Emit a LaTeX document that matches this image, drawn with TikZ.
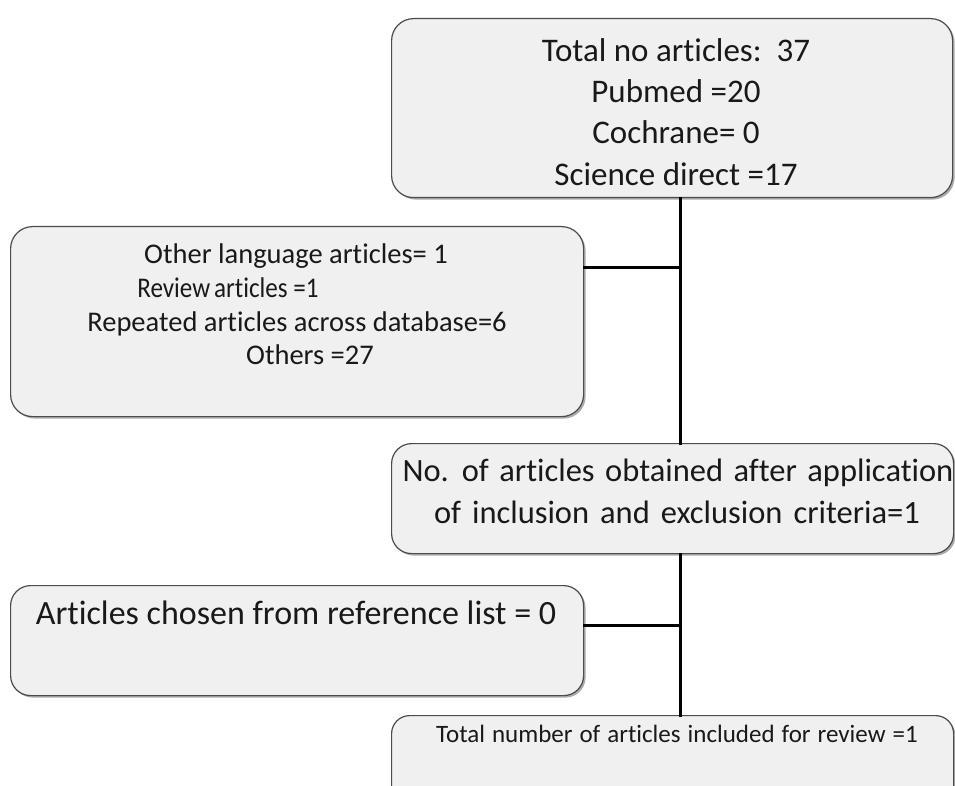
\documentclass[tikz,border=0pt]{standalone}
\usepackage{fontspec}
\setmainfont{Carlito}[Ligatures={NoCommon}]
\usetikzlibrary{shadows}
\begin{document}
\begin{tikzpicture}[x=1pt,y=-1pt,
  box/.style={draw=black!70, line width=1.2pt, fill=black!6, rounded corners=22pt,
    minimum width=0pt, minimum height=0pt, inner sep=0pt, anchor=north west,
    drop shadow={shadow xshift=2pt, shadow yshift=-2pt, fill=black!55, opacity=0.6}},
  conn/.style={line width=3pt, line cap=rect},
  txt/.style={inner sep=0pt, anchor=base, text=black!90}]
\useasboundingbox (0,0) rectangle (955,786);
\clip (0,0) rectangle (955,786);
% boxes
\node[box, minimum width=561pt, minimum height=179pt] (b1) at (391,18) {};
\node[box, minimum width=573pt, minimum height=190pt] (b2) at (10,226) {};
\node[box, minimum width=562pt, minimum height=110pt, rounded corners=20pt] (b3) at (391,443) {};
\node[box, minimum width=573pt, minimum height=110pt, rounded corners=20pt] (b4) at (10,585) {};
\node[box, minimum width=562pt, minimum height=110pt, rounded corners=18pt] (b5) at (391,715) {};
% junctions
\coordinate (j1) at (680,267);
\coordinate (j2) at (680,625);
% connectors
\draw[conn] (b1.south -| j1) -- (b3.north -| j1);
\draw[conn] (b3.south -| j2) -- (b5.north -| j2);
\draw[conn] (b2.east |- j1) -- (j1);
\draw[conn] (b4.east |- j2) -- (j2);
% texts box 1
\begin{scope}[font=\fontsize{33}{40}\selectfont]
\node[txt] (t11) at (676,62) {Total no articles:~~37};
\node[txt] (t12) at (676,103) {Pubmed =20};
\node[txt] (t13) at (676,144) {Cochrane= 0};
\node[txt] (t14) at (676,186) {Science direct =17};
\end{scope}
% texts box 2
\begin{scope}[font=\fontsize{28.5}{34}\selectfont]
\node[txt] (t21) at (296,263) {Other language articles= 1};
\node[txt] (t22) at (228,297) {\scalebox{0.88}[1]{Review\kern4.5pt{}articles =1}};
\node[txt] (t23) at (297,331) {Repeated articles across database=6};
\node[txt] (t24) at (310,364) {Others =27};
\end{scope}
% texts box 3
\begin{scope}[font=\fontsize{32.5}{40}\selectfont]
\node[txt] (t31) at (678,481) {\spaceskip=10.5pt\relax No. of articles obtained after application};
\node[txt] (t32) at (677,523) {\spaceskip=11pt\relax of inclusion and exclusion criteria=1};
\end{scope}
% text box 4
\node[txt, font=\fontsize{34}{40}\selectfont] (t41) at (296,624) {Articles chosen from reference list = 0};
% text box 5
\node[txt, font=\fontsize{25}{30}\selectfont] (t51) at (677,742) {\spaceskip=7pt\relax Total number of articles included for review =1};
\end{tikzpicture}
\end{document}
